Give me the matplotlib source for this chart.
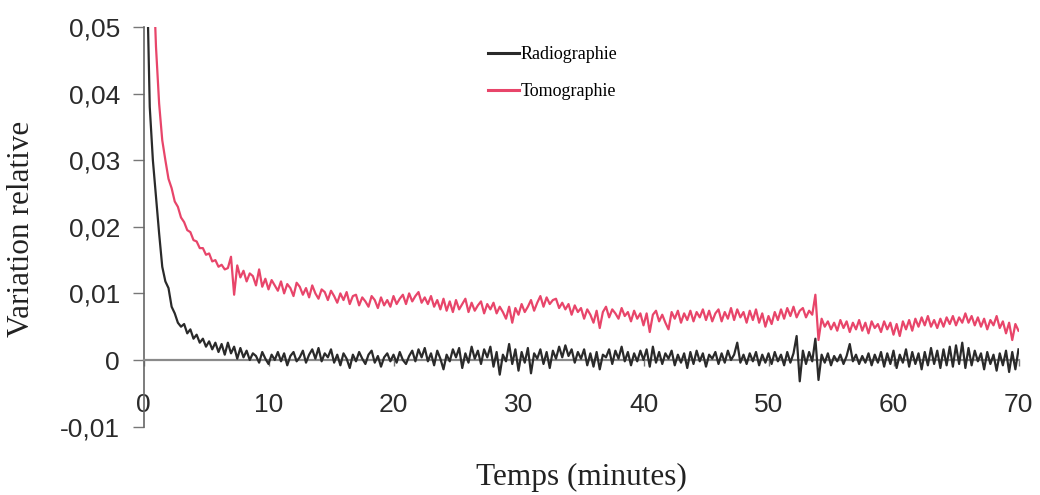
import numpy as np
import matplotlib
matplotlib.use("Agg")
import matplotlib.pyplot as plt

# ---- data (values in units of 1e-4) ----
radio_t0 = 0.25      # first sample time (minutes)
tomo_t0 = 0.75
sample_step = 0.25   # minutes between samples

radiographie_e4 = [
    600, 380, 300, 245, 190, 140, 118, 108, 80, 70, 56, 50, 54, 40, 46, 32, 38, 26, 32, 20,
    28, 16, 26, 12, 24, 8, 26, 10, 20, 2, 18,
    4, 14, 0, 10,      6, -4, 12, 2,      -6, 8, 0, 12,      -2, 10, -8, 6,
    12, -2, 4, 14,     -4, 8, 16, 2,      18, -2, 10, 4,     16, -4, 8, -8,
    10, 2, -12, 8,     -2, 12, 2, -6,     8, 14, -4, 6,      -10, 4, 10, -2,
    8, -4, 12, 0,      -6, 6, 14, -2,     16, 4, 18, -2,     10, -8, 14, 2,
    -14, 8, -2, 16,    4, 18, -12, 10,    -4, 20, 2, 14,     -6, 16, 4, 20,
    -10, 12, -22, 8,   -2, 24, -6, 16,    -16, 12, -4, 18,   -20, 10, 2, 16,
    -6, 12, -12, 14,   2, 20, 4, 22,      6, 16, -4, 12,     2, 16, -8, 10,
    -10, 12, -14, 8,   4, 16, -6, 14,     2, 20, -2, 12,     -8, 10, -2, 14,
    0, 16, -10, 20,    -4, 12, -6, 10,    2, 14, -8, 8,      -4, 10, -12, 12,
    -6, 14, -2, 10,    -10, 8, 2, 12,     -6, 10, -4, 14,    0, 8, 26, -4,
    8, -6, 10, -2,     12, -8, 8, -4,     10, -6, 12, -2,    8, -8, 12, -4,
    10, 36, -32, 14,   -6, 12, -2, 32,    -30, 8, -4, 10,    -8, 6, -2, 8,
    -6, 6, 24, -2,     8, -6, 6, -4,      10, -8, 8, -4,     12, -10, 10, -6,
    14, -12, 8, -4,    16, -10, 12, -6,   10, -14, 12, -8,   18, -6, 14, -12,
    16, -8, 20, -10,   22, -6, 26, -12,   18, -8, 14, -2,    10, -14, 12, -6,
    8, -16, 10, -8,    14, -18, 12, -14,
    16,
]

tomographie_e4 = [
    600, 470, 385, 330, 300, 272, 258, 238, 230, 214, 207, 195, 192, 180, 178, 168, 168, 158, 160, 148,
    150, 140, 143, 136, 138, 155, 98,
    142, 124,
    134, 118, 130, 126,   112, 136, 110, 122,   106, 120, 112, 104,   118, 100, 114, 108,
    96, 116, 110, 98,     108, 94, 112, 100,    92, 106, 102, 90,     104, 96, 86, 100,
    90, 102, 84, 96,      98, 82, 94, 88,       80, 96, 90, 78,       94, 82, 90, 80,
    96, 84, 92, 98,       84, 100, 88, 96,      102, 86, 94, 84,      96, 80, 90, 76,
    92, 74, 88, 72,       90, 76, 84, 92,       72, 86, 74, 82,       88, 70, 84, 76,
    86, 70, 80, 72,       62, 80, 56, 78,       68, 84, 72, 80,       90, 74, 86, 96,
    80, 94, 84, 90,       92, 78, 86, 76,       84, 68, 82, 72,       78, 62, 76, 68,
    56, 74, 48, 72,       80, 64, 76, 70,       62, 78, 66, 72,       58, 74, 62, 70,
    52, 70, 42, 68,       74, 58, 68, 56,       46, 72, 62, 74,       56, 70, 60, 74,
    58, 72, 64, 76,       60, 74, 58, 70,       76, 58, 72, 62,       78, 60, 76, 64,
    72, 56, 74, 60,       76, 56, 70, 50,       66, 54, 72, 60,       76, 62, 78, 66,
    80, 64, 74, 78,       64, 74, 68, 98,       30, 62, 50, 58,       46, 56, 44, 60,
    48, 58, 42, 56,       46, 60, 44, 56,       40, 58, 48, 54,       42, 58, 46, 56,
    38, 54, 36, 58,       46, 60, 44, 62,       50, 64, 52, 66,       50, 60, 48, 62,
    50, 64, 54, 66,       52, 64, 56, 70,       56, 66, 52, 64,       50, 62, 46, 60,
    52, 66, 48, 58,       40, 56, 30, 54,
    44,
]

series_labels = ["Radiographie", "Tomographie"]
x_ticks = [0, 10, 20, 30, 40, 50, 60, 70]
y_ticks = [-0.01, 0, 0.01, 0.02, 0.03, 0.04, 0.05]
y_ticklabels = ["-0,01", "0", "0,01", "0,02", "0,03", "0,04", "0,05"]

radio = np.array(radiographie_e4) * 1e-4
tomo = np.array(tomographie_e4) * 1e-4
t_radio = radio_t0 + sample_step * np.arange(len(radio))
t_tomo = tomo_t0 + sample_step * np.arange(len(tomo))

# ---- figure ----
W, H = 1040, 495
fig = plt.figure(figsize=(W / 100, H / 100), dpi=100)
ax = fig.add_axes([143.5 / W, 1 - 426.6 / H, 875 / W, 399.6 / H])

ax.plot(t_radio, radio, color="#2a2a2a", lw=1.6, label=series_labels[0], zorder=3)
ax.plot(t_tomo, tomo, color="#e8456a", lw=1.6, label=series_labels[1], zorder=2)

ax.set_xlim(0, 70)
ax.set_ylim(-0.01, 0.05)

ax.spines["top"].set_visible(False)
ax.spines["right"].set_visible(False)
ax.spines["bottom"].set_position(("data", 0))
ax.spines["bottom"].set_color("#8a8a8a")
ax.spines["bottom"].set_linewidth(1.6)
ax.spines["left"].set_color("#666666")
ax.spines["left"].set_linewidth(1.2)

tick_font = {"family": "Liberation Sans", "size": 19, "color": "#2b2b2b"}
ax.set_xticks(x_ticks)
ax.set_xticklabels([str(v) for v in x_ticks], fontdict=tick_font)
ax.set_yticks(y_ticks)
ax.set_yticklabels(y_ticklabels, fontdict=tick_font)
ax.tick_params(axis="x", direction="out", length=4, width=1, color="#777777", pad=20)
ax.tick_params(axis="y", direction="out", length=8, width=1, color="#777777", pad=9)

serif = "Liberation Serif"
fig.text(581 / W, 1 - 477 / H, "Temps (minutes)", ha="center", va="center",
         family=serif, size=22.5, color="#222222")
fig.text(22 / W, 1 - 229 / H, "Variation relative", ha="center", va="center",
         rotation=90, family=serif, size=22.5, color="#222222")

leg = ax.legend(loc="upper left", bbox_to_anchor=(488 / W, 1 - 46 / H),
                bbox_transform=fig.transFigure, frameon=False,
                prop={"family": serif, "size": 13}, handlelength=1.7,
                handletextpad=0.1, labelspacing=1.1, borderpad=0, borderaxespad=0)
for line in leg.get_lines():
    line.set_linewidth(2.2)

fig.savefig("out.png", dpi=100)
